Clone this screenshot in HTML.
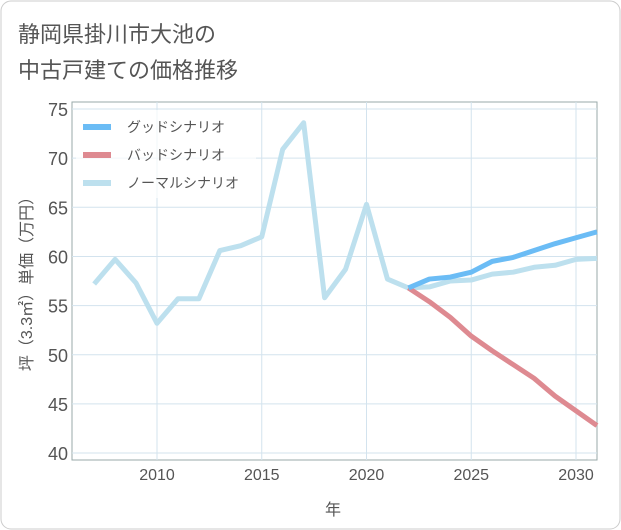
<!DOCTYPE html>
<html><head><meta charset="utf-8">
<style>
body{margin:0;background:#fff;}
svg{display:block;font-family:"Liberation Sans","Noto Sans CJK JP",sans-serif;}
</style></head>
<body>
<svg id="c" width="621" height="530">
<rect x="1" y="1" width="619" height="528" rx="10" fill="#fff" stroke="#ccc"/>
<text x="18" y="42" font-size="22" fill="#555">静岡県掛川市大池の</text>
<text x="18" y="78" font-size="22" fill="#555">中古戸建ての価格推移</text>
<g id="grid"></g>
<g id="series"></g>
<g id="legend"></g>
<text x="333" y="515" font-size="16" fill="#555" text-anchor="middle">年</text>
<text transform="translate(32,280) rotate(-90)" font-size="16" fill="#555" text-anchor="middle">坪（3.3㎡）単価（万円）</text>
</svg>
<script>
const normYears=[2007,2008,2009,2010,2011,2012,2013,2014,2015,2016,2017,2018,2019,2020,2021,2022,2023,2024,2025,2026,2027,2028,2029,2030,2031];
const normVals=[57.2,59.7,57.3,53.2,55.7,55.7,60.6,61.1,62.0,70.9,73.6,55.8,58.7,65.3,57.7,56.8,56.9,57.5,57.6,58.2,58.4,58.9,59.1,59.7,59.8];
const fcYears=[2022,2023,2024,2025,2026,2027,2028,2029,2030,2031];
const goodVals=[56.8,57.7,57.9,58.4,59.5,59.9,60.6,61.3,61.9,62.5];
const badVals=[56.8,55.4,53.8,51.9,50.4,49.0,47.6,45.8,44.3,42.8];
const yTicks=[40,45,50,55,60,65,70,75];
const xTicks=[2010,2015,2020,2025,2030];
const legendLabels=["グッドシナリオ","バッドシナリオ","ノーマルシナリオ"];
const L=72,R=597,T=102,B=460;
const xs=v=>157+(v-2010)*20.95;
const ys=v=>109+(75-v)*9.83;
const NS="http://www.w3.org/2000/svg";
function mk(t,a,p){const e=document.createElementNS(NS,t);for(const k in a)e.setAttribute(k,a[k]);p.appendChild(e);return e;}
const g=document.getElementById('grid');
const ax=mk('rect',{x:L,y:T,width:R-L,height:B-T,fill:'none',stroke:'#9aa',"stroke-width":1},g);


yTicks.forEach(v=>{
 const l=mk('line',{x1:L,x2:R,y1:ys(v),y2:ys(v),stroke:'#d3e3ee'},g);
 
 
 const t=mk('text',{x:L-4,y:ys(v)+7,"font-size":18,fill:'#555',"text-anchor":'end'},g);
 t.textContent=v;
 
 
});
xTicks.forEach(v=>{
 const l=mk('line',{x1:xs(v),x2:xs(v),y1:T,y2:B,stroke:'#d3e3ee'},g);
 
 
 const t=mk('text',{x:xs(v),y:B+20,"font-size":16,fill:'#555',"text-anchor":'middle'},g);
 t.textContent=v;
 
 
});
const s=document.getElementById('series');
function line(xv,yv,col,name){
 const p=mk('polyline',{points:xv.map((x,i)=>xs(x)+','+ys(yv[i])).join(' '),fill:'none',stroke:col,"stroke-width":5,"stroke-linejoin":'round'},s);
 
 
}
line(normYears,normVals,'#bde0ee','normal-scenario-line');
line(fcYears,badVals,'#de8a91','bad-scenario-line');
line(fcYears,goodVals,'#6bbcf5','good-scenario-line');
const lg=document.getElementById('legend');
const bg=mk('rect',{x:76,y:110,width:180,height:88,fill:'rgba(255,255,255,0.7)'},lg);


const cols=['#6bbcf5','#de8a91','#bde0ee'];
legendLabels.forEach((lab,i)=>{
 const y=127+i*28;
 const sw=mk('line',{x1:83,x2:111,y1:y,y2:y,stroke:cols[i],"stroke-width":6},lg);
 
 
 const t=mk('text',{x:127,y:y+5,"font-size":14,fill:'#555'},lg);
 t.textContent=lab;
 
 
});
</script>
</body></html>
